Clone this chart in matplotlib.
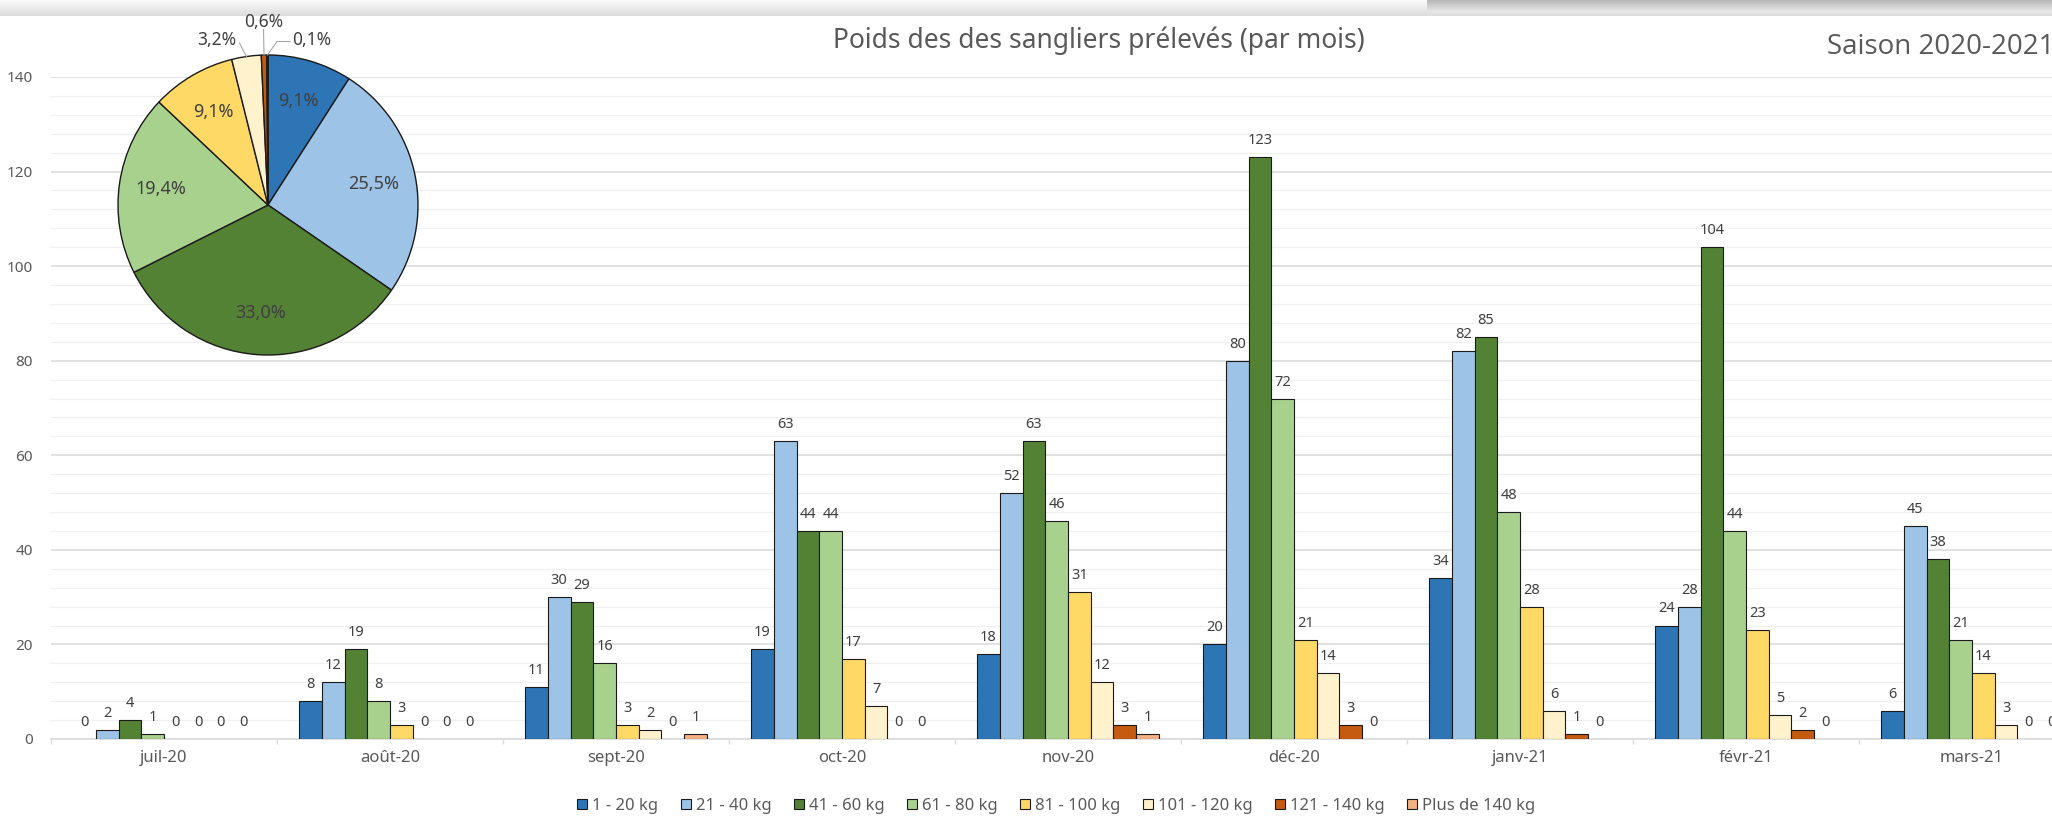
import numpy as np
import matplotlib
matplotlib.use("Agg")
import matplotlib.pyplot as plt
from matplotlib.patches import Patch

plt.rcParams['font.family'] = ['Noto Sans', 'DejaVu Sans']

# ============================================================
# Data
# ============================================================
months = ['juil-20', 'août-20', 'sept-20', 'oct-20', 'nov-20',
          'déc-20', 'janv-21', 'févr-21', 'mars-21']
classes = ['1 - 20 kg', '21 - 40 kg', '41 - 60 kg', '61 - 80 kg',
           '81 - 100 kg', '101 - 120 kg', '121 - 140 kg', 'Plus de 140 kg']

kg_1_20 = [0, 8, 11, 19, 18, 20, 34, 24, 6]
kg_21_40 = [2, 12, 30, 63, 52, 80, 82, 28, 45]
kg_41_60 = [4, 19, 29, 44, 63, 123, 85, 104, 38]
kg_61_80 = [1, 8, 16, 44, 46, 72, 48, 44, 21]
kg_81_100 = [0, 3, 3, 17, 31, 21, 28, 23, 14]
kg_101_120 = [0, 0, 2, 7, 12, 14, 6, 5, 3]
kg_121_140 = [0, 0, 0, 0, 3, 3, 1, 2, 0]
kg_140_plus = [0, 0, 1, 0, 1, 0, 0, 0, 0]

series = [kg_1_20, kg_21_40, kg_41_60, kg_61_80,
          kg_81_100, kg_101_120, kg_121_140, kg_140_plus]
colors = ['#2E75B6', '#9DC3E6', '#548235', '#A9D18E',
          '#FFD966', '#FFF2CC', '#C55A11', '#F4B183']

title = 'Poids des des sangliers prélevés (par mois)'
season = 'Saison 2020-2021'

# ============================================================
# Figure / helpers (pixel layout of the 2052x816 screenshot)
# ============================================================
W, H = 2052, 816
TXT = '#595959'
LBL = '#404040'


def fx(px):
    return px / W


def fy(py):
    return 1 - py / H


fig = plt.figure(figsize=(W / 100, H / 100), dpi=100)
fig.patch.set_facecolor('white')

# screenshot top band
band = fig.add_axes([0, fy(16), 1, 16 / H])
grad = np.linspace(0.98, 0.86, 16)[:, None] * np.ones((16, 10))
band.imshow(grad, aspect='auto', cmap='gray', vmin=0, vmax=1,
            extent=(0, 1, 0, 1))
shadow = np.linspace(0.72, 0.9, 12)[:, None] * np.ones((12, 10))
band.imshow(shadow, aspect='auto', cmap='gray', vmin=0, vmax=1,
            extent=(1427 / W, 1, 4 / 16, 1))
band.set_xlim(0, 1)
band.set_ylim(0, 1)
band.axis('off')

# ============================================================
# Bar chart
# ============================================================
ax = fig.add_axes([fx(51), fy(739), 2034 / W, 662 / H])
x = np.arange(len(months))
bw = 0.1006

for i, (vals, col) in enumerate(zip(series, colors)):
    xs = x + (i - 3.5) * bw
    lws = [0.8 if v > 0 else 0 for v in vals]
    ax.bar(xs, vals, bw, color=col, edgecolor='#1a1a1a', linewidth=lws, zorder=3)
    for xi, v in zip(xs, vals):
        ax.annotate(str(v), (xi, v), xytext=(0, 6.5), textcoords='offset points',
                    ha='center', va='bottom', fontsize=10.5, color=LBL)

ax.set_xlim(-0.5, len(months) - 0.5)
ax.set_ylim(0, 140)
ax.set_yticks(range(0, 141, 20))
ax.set_yticks(range(0, 141, 4), minor=True)
ax.set_xticks(np.arange(-0.5, len(months), 1))
ax.set_xticklabels([])
ax.set_xticks(x, minor=True)
ax.set_xticklabels(months, minor=True)

ax.grid(which='major', axis='y', color='#D9D9D9', linewidth=1.1)
ax.grid(which='minor', axis='y', color='#F0F0F0', linewidth=0.9)
ax.set_axisbelow(True)

ax.tick_params(axis='y', which='both', length=0, pad=13, labelsize=11, labelcolor=TXT)
ax.tick_params(axis='x', which='major', length=3.6, color='#D9D9D9', width=1)
ax.tick_params(axis='x', which='minor', length=0, pad=8, labelsize=12, labelcolor=TXT)

for s in ['top', 'right', 'left']:
    ax.spines[s].set_visible(False)
ax.spines['bottom'].set_color('#D9D9D9')
ax.spines['bottom'].set_linewidth(1.1)

# legend
handles = [Patch(facecolor=c, edgecolor='#1a1a1a', linewidth=0.8) for c in colors]
fig.legend(handles, classes, loc='center', bbox_to_anchor=(fx(1056), fy(806)),
           ncol=8, frameon=False, fontsize=12, labelcolor=TXT,
           handlelength=0.6, handleheight=0.6, handletextpad=0.3,
           columnspacing=1.35)

# titles
fig.text(fx(1099), fy(48), title, ha='center', va='baseline',
         fontsize=19, color=TXT)
fig.text(fx(1827), fy(54), season, ha='left', va='baseline',
         fontsize=20, color=TXT, family=['Open Sans', 'DejaVu Sans'])

# ============================================================
# Pie chart (season totals)
# ============================================================
totals = [sum(v) for v in series]
pct = np.array(totals) / sum(totals) * 100

cx, cy, r = 268, 205, 150
pax = fig.add_axes([fx(cx - r), fy(cy + r), 2 * r / W, 2 * r / H])
wedges, _ = pax.pie(totals, colors=colors, startangle=90, counterclock=False,
                    wedgeprops=dict(edgecolor='#1a1a1a', linewidth=1.0))
pax.set_xlim(-1, 1)
pax.set_ylim(-1, 1)
pax.set_aspect('equal')
pax.axis('off')

# leader-line label placement for the small slices (style only)
outside = {
    5: ([(-0.19, 1.08)], (-0.21, 1.10), 'right', 'center'),
    6: ([(-0.03, 1.17)], (-0.03, 1.16), 'center', 'bottom'),
    7: ([(0.06, 1.09), (0.147, 1.09)], (0.16, 1.10), 'left', 'center'),
}

for i, (w, p) in enumerate(zip(wedges, pct)):
    lab = f'{p:.1f}%'.replace('.', ',')
    mid = np.deg2rad((w.theta1 + w.theta2) / 2)
    if i in outside:
        pts, tpos, ha, va = outside[i]
        start = (np.cos(mid), np.sin(mid))
        xs_l = [start[0]] + [q[0] for q in pts]
        ys_l = [start[1]] + [q[1] for q in pts]
        pax.plot(xs_l, ys_l, color='#A6A6A6', linewidth=0.8, clip_on=False)
        pax.text(tpos[0], tpos[1], lab, ha=ha, va=va, fontsize=12.5,
                 color=LBL, clip_on=False)
    else:
        pax.text(0.72 * np.cos(mid), 0.72 * np.sin(mid), lab, ha='center',
                 va='center', fontsize=13, color=LBL)

fig.savefig('out.png', dpi=100)
